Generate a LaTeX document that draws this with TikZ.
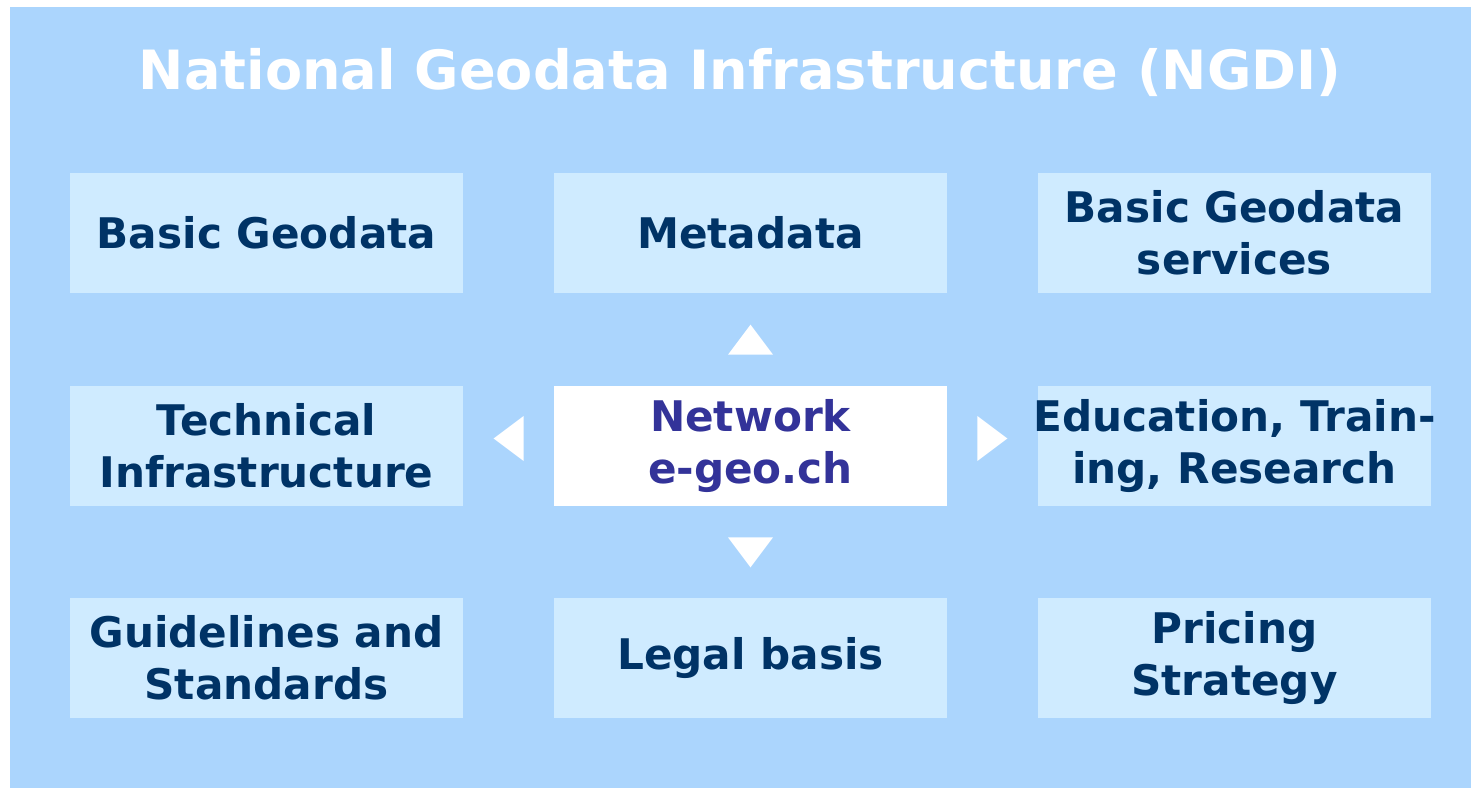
\documentclass[tikz,border=0pt]{standalone}
\usepackage{fontspec}
\setmainfont{DejaVu Sans}
\usepackage{tikz}
\usetikzlibrary{calc}
\definecolor{bgblue}{HTML}{ABD5FD}
\definecolor{boxblue}{HTML}{CFEBFF}
\definecolor{textblue}{HTML}{003366}
\definecolor{netblue}{HTML}{333399}
\tikzset{part/.style={fill=boxblue,text=textblue,minimum width=7.86cm,minimum height=2.4cm,inner sep=0pt,align=center,font=\fontsize{24}{29.5}\selectfont\bfseries}}
\tikzset{hub/.style={part,fill=white,text=netblue}}
\tikzset{tri/.style={fill=white}}

\begin{document}
\begin{tikzpicture}
          \useasboundingbox (0,0) rectangle (29.42,-15.76);
          \fill[bgblue] (0.2,-0.14) rectangle (29.42,-15.76);
          \node (title) at (14.8,-1.46) [text=white,font=\fontsize{30.8}{34}\selectfont\bfseries] {National Geodata Infrastructure (NGDI)};
          % first row
          \node (geodata) at (5.33,-4.66) [part] {Basic Geodata};
          \node (meta) at (15.01,-4.66) [part] {Metadata};
          \node (services) at (24.69,-4.66) [part] {Basic Geodata\\services};
          % second row
          \node (tech) at (5.33,-8.92) [part] {Technical\\Infrastructure};
          \node (net) at (15.01,-8.92) [hub] {Network\\e-geo.ch};
          \node (edu) at (24.69,-8.92) [part] {\makebox[0pt]{Education, Train-}\\\makebox[0pt]{ing, Research}};
          % third row
          \node (guide) at (5.33,-13.16) [part] {Guidelines and\\Standards};
          \node (legal) at (15.01,-13.16) [part] {Legal basis};
          \node (price) at (24.69,-13.16) [part] {Pricing\\Strategy};
          % arrows round the network
          \fill[tri] ($(net.north)+(-0.45,0.62)$) -- ++(0.9,0) -- ++(-0.45,0.6) -- cycle;
          \fill[tri] ($(net.south)+(-0.45,-0.62)$) -- ++(0.9,0) -- ++(-0.45,-0.6) -- cycle;
          \fill[tri] ($(net.west)+(-0.6,-0.3)$) -- ++(0,0.9) -- ++(-0.6,-0.45) -- cycle;
          \fill[tri] ($(net.east)+(0.6,-0.3)$) -- ++(0,0.9) -- ++(0.6,-0.45) -- cycle;
        \end{tikzpicture}
\end{document}
